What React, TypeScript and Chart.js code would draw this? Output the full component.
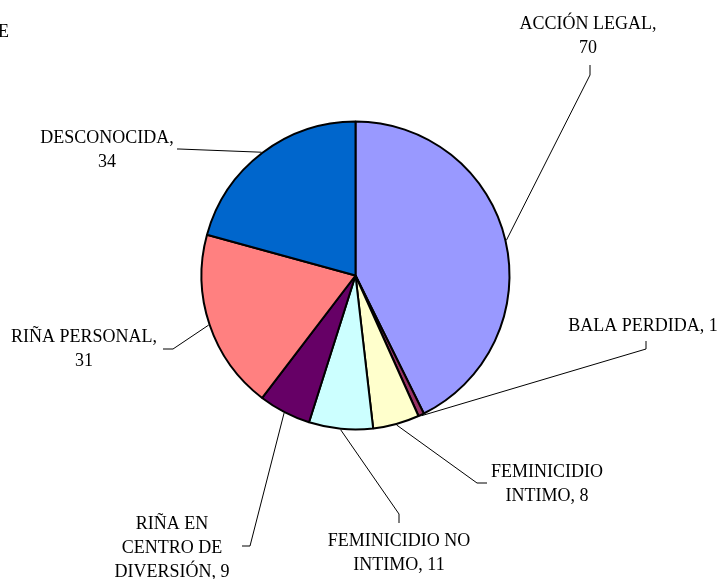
import React, { useEffect, useRef } from "react";
import { Chart, registerables } from "chart.js";

Chart.register(...registerables);

const categories = [
  "ACCIÓN LEGAL",
  "BALA PERDIDA",
  "FEMINICIDIO INTIMO",
  "FEMINICIDIO NO INTIMO",
  "RIÑA EN CENTRO DE DIVERSIÓN",
  "RIÑA PERSONAL",
  "DESCONOCIDA",
];
const values = [70, 1, 8, 11, 9, 31, 34];
const colors = ["#9999FF", "#993366", "#FFFFCC", "#CCFFFF", "#660066", "#FF8080", "#0066CC"];
const titleText = "E";

// label layout: text centre x, first baseline, wrap width, leader start and elbow
const labelLayout = [
  { cx: 588, base: 29, wrap: 150, from: [590, 65], elbow: [590, 75] },
  { cx: 643, base: 331, wrap: 175, from: [646, 341], elbow: [646, 349] },
  { cx: 547, base: 477, wrap: 130, from: [487, 483], elbow: [477, 483] },
  { cx: 399, base: 546, wrap: 152, from: [399, 523], elbow: [399, 514] },
  { cx: 172, base: 529, wrap: 125, from: [242, 546], elbow: [250, 546] },
  { cx: 84, base: 342, wrap: 155, from: [163, 349], elbow: [173, 349] },
  { cx: 107, base: 143, wrap: 145, from: [177, 149], elbow: [179, 149] },
];

const FONT = '18px "Liberation Serif", "Times New Roman", serif';
const LINE_H = 24;

function wrapText(ctx: CanvasRenderingContext2D, text: string, maxW: number): string[] {
  const words = text.split(" ");
  const lines: string[] = [];
  let cur = "";
  for (const w of words) {
    const test = cur ? cur + " " + w : w;
    if (ctx.measureText(test).width > maxW && cur) {
      lines.push(cur);
      cur = w;
    } else {
      cur = test;
    }
  }
  if (cur) lines.push(cur);
  return lines;
}

const labelPlugin = {
  id: "excelLabels",
  afterDraw(chart: any) {
    const ctx: CanvasRenderingContext2D = chart.ctx;
    const meta = chart.getDatasetMeta(0);
    ctx.save();
    ctx.font = FONT;
    ctx.fillStyle = "#000";
    ctx.textAlign = "right";
    ctx.textBaseline = "alphabetic";
    ctx.fillText(titleText, 9, 37);
    meta.data.forEach((arc: any, i: number) => {
      const L = labelLayout[i];
      const p = arc.getProps(["x", "y", "startAngle", "endAngle", "outerRadius"], true);
      const mid = (p.startAngle + p.endAngle) / 2;
      const ax = p.x + Math.cos(mid) * (p.outerRadius + 1);
      const ay = p.y + Math.sin(mid) * (p.outerRadius + 1);
      ctx.strokeStyle = "#000";
      ctx.lineWidth = 1;
      ctx.beginPath();
      ctx.moveTo(L.from[0], L.from[1]);
      ctx.lineTo(L.elbow[0], L.elbow[1]);
      ctx.lineTo(ax, ay);
      ctx.stroke();
      const text = `${categories[i]}, ${values[i]}`;
      const lines = wrapText(ctx, text, L.wrap);
      ctx.textAlign = "center";
      lines.forEach((ln, k) => {
        ctx.fillText(ln, L.cx, L.base + k * LINE_H);
      });
    });
    ctx.restore();
  },
};

export default function App() {
  const ref = useRef<HTMLCanvasElement>(null);
  useEffect(() => {
    document.body.style.margin = "0";
    const chart = new Chart(ref.current!, {
      type: "pie",
      data: {
        labels: categories,
        datasets: [
          {
            data: values,
            backgroundColor: colors,
            borderColor: "#000",
            borderWidth: 2,
            radius: 154,
          } as any,
        ],
      },
      options: {
        animation: false,
        responsive: false,
        devicePixelRatio: 1,
        layout: { padding: { left: 0, right: 8, top: 0, bottom: 28 } },
        plugins: {
          legend: { display: false },
          tooltip: { enabled: false },
          title: { display: false },
        },
      },
      plugins: [labelPlugin],
    });
    return () => chart.destroy();
  }, []);
  return (
    <div style={{ width: 719, height: 579, background: "#fff" }}>
      <canvas ref={ref} width={719} height={579} />
    </div>
  );
}
